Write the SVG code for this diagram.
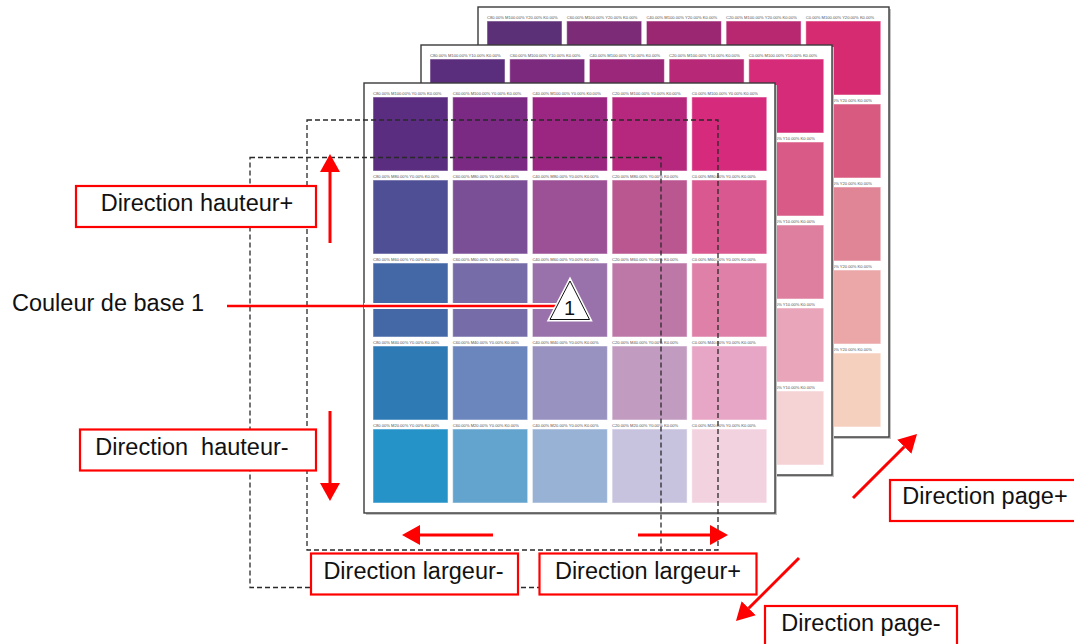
<svg xmlns="http://www.w3.org/2000/svg" width="1074" height="644" viewBox="0 0 1074 644">
<style>
.bg{fill:#fff}
.sh{fill:#c2c2c2}
.pg{fill:#fff;stroke:#3a3a3a;stroke-width:1.4}
.sw rect{stroke:#fff;stroke-opacity:.5;stroke-width:1}
.sl{font-family:"Liberation Sans",Arial,sans-serif;font-size:4.1px;fill:#555}
.dash{fill:none;stroke:#2a2a2a;stroke-width:1.3;stroke-dasharray:5 3}
.box{fill:#fff;stroke:#f00;stroke-width:2.2}
.lbl{font-family:"Liberation Sans",Arial,sans-serif;font-size:23.5px;fill:#111;text-anchor:middle;white-space:pre}
.arr{stroke:#f00;stroke-width:3;fill:none}
</style>
<defs>
<marker id="ah" markerUnits="userSpaceOnUse" markerWidth="18" markerHeight="20" refX="0" refY="10" orient="auto" viewBox="0 0 18 20"><path d="M0,0 L18,10 L0,20 Z" fill="#f00"/></marker>
</defs>
<rect class="bg" x="0" y="0" width="1074" height="644"/>

<g id="page-back" transform="translate(478,7)">
<rect class="sh" x="2" y="2" width="411" height="430"/>
<rect class="pg" x="0" y="0" width="411" height="430"/>
<g class="sw">
<rect x="9" y="14" width="75" height="74" fill="#5b3077"/>
<rect x="88.7" y="14" width="75" height="74" fill="#7c2b76"/>
<rect x="168.4" y="14" width="75" height="74" fill="#9b2773"/>
<rect x="248.1" y="14" width="75" height="74" fill="#b72870"/>
<rect x="327.8" y="14" width="75" height="74" fill="#d62b71"/>
<rect x="327.8" y="97" width="75" height="74" fill="#d95a80"/>
<rect x="327.8" y="180" width="75" height="74" fill="#df8595"/>
<rect x="327.8" y="263" width="75" height="74" fill="#eba7a8"/>
<rect x="327.8" y="346" width="75" height="74" fill="#f5d0bf"/>
</g>
<g class="sl">
<text x="9" y="11.5">C80.00% M100.00% Y20.00% K0.00%</text>
<text x="88.7" y="11.5">C60.00% M100.00% Y20.00% K0.00%</text>
<text x="168.4" y="11.5">C40.00% M100.00% Y20.00% K0.00%</text>
<text x="248.1" y="11.5">C20.00% M100.00% Y20.00% K0.00%</text>
<text x="327.8" y="11.5">C0.00% M100.00% Y20.00% K0.00%</text>
<text x="327.8" y="94.5">C0.00% M80.00% Y20.00% K0.00%</text>
<text x="327.8" y="177.5">C0.00% M60.00% Y20.00% K0.00%</text>
<text x="327.8" y="260.5">C0.00% M40.00% Y20.00% K0.00%</text>
<text x="327.8" y="343.5">C0.00% M20.00% Y20.00% K0.00%</text>
</g>
</g>

<g id="page-middle" transform="translate(421,45)">
<rect class="sh" x="2" y="2" width="411" height="430"/>
<rect class="pg" x="0" y="0" width="411" height="430"/>
<g class="sw">
<rect x="9" y="14" width="75" height="74" fill="#5b2d7d"/>
<rect x="88.7" y="14" width="75" height="74" fill="#7c2a7e"/>
<rect x="168.4" y="14" width="75" height="74" fill="#9b277b"/>
<rect x="248.1" y="14" width="75" height="74" fill="#b72877"/>
<rect x="327.8" y="14" width="75" height="74" fill="#d62b78"/>
<rect x="327.8" y="97" width="75" height="74" fill="#d95a86"/>
<rect x="327.8" y="180" width="75" height="74" fill="#df7fa0"/>
<rect x="327.8" y="263" width="75" height="74" fill="#e9a5b9"/>
<rect x="327.8" y="346" width="75" height="74" fill="#f5d2d4"/>
</g>
<g class="sl">
<text x="9" y="11.5">C80.00% M100.00% Y10.00% K0.00%</text>
<text x="88.7" y="11.5">C60.00% M100.00% Y10.00% K0.00%</text>
<text x="168.4" y="11.5">C40.00% M100.00% Y10.00% K0.00%</text>
<text x="248.1" y="11.5">C20.00% M100.00% Y10.00% K0.00%</text>
<text x="327.8" y="11.5">C0.00% M100.00% Y10.00% K0.00%</text>
<text x="327.8" y="94.5">C0.00% M80.00% Y10.00% K0.00%</text>
<text x="327.8" y="177.5">C0.00% M60.00% Y10.00% K0.00%</text>
<text x="327.8" y="260.5">C0.00% M40.00% Y10.00% K0.00%</text>
<text x="327.8" y="343.5">C0.00% M20.00% Y10.00% K0.00%</text>
</g>
</g>

<g id="page-front" transform="translate(364,83)">
<rect class="sh" x="2" y="2" width="411" height="430"/>
<rect class="pg" x="0" y="0" width="411" height="430"/>
<g class="sw">
<rect x="9" y="14" width="75" height="74" fill="#5a2d81"/>
<rect x="88.7" y="14" width="75" height="74" fill="#7b2a83"/>
<rect x="168.4" y="14" width="75" height="74" fill="#9a2681"/>
<rect x="248.1" y="14" width="75" height="74" fill="#b6287d"/>
<rect x="327.8" y="14" width="75" height="74" fill="#d62b7d"/>
<rect x="9" y="97" width="75" height="74" fill="#4f4f96"/>
<rect x="88.7" y="97" width="75" height="74" fill="#7a4f96"/>
<rect x="168.4" y="97" width="75" height="74" fill="#9c5196"/>
<rect x="248.1" y="97" width="75" height="74" fill="#ba5690"/>
<rect x="327.8" y="97" width="75" height="74" fill="#d9588f"/>
<rect x="9" y="180" width="75" height="74" fill="#4467a6"/>
<rect x="88.7" y="180" width="75" height="74" fill="#756ca8"/>
<rect x="168.4" y="180" width="75" height="74" fill="#9a72ab"/>
<rect x="248.1" y="180" width="75" height="74" fill="#be78a8"/>
<rect x="327.8" y="180" width="75" height="74" fill="#df80a8"/>
<rect x="9" y="263" width="75" height="74" fill="#2e7ab4"/>
<rect x="88.7" y="263" width="75" height="74" fill="#6b86bd"/>
<rect x="168.4" y="263" width="75" height="74" fill="#9892c1"/>
<rect x="248.1" y="263" width="75" height="74" fill="#c29bc1"/>
<rect x="327.8" y="263" width="75" height="74" fill="#e8a6c6"/>
<rect x="9" y="346" width="75" height="74" fill="#2593c8"/>
<rect x="88.7" y="346" width="75" height="74" fill="#62a4cd"/>
<rect x="168.4" y="346" width="75" height="74" fill="#98b2d6"/>
<rect x="248.1" y="346" width="75" height="74" fill="#c7c2de"/>
<rect x="327.8" y="346" width="75" height="74" fill="#f3d2e0"/>
</g>
<g class="sl">
<text x="9" y="11.5">C80.00% M100.00% Y0.00% K0.00%</text>
<text x="88.7" y="11.5">C60.00% M100.00% Y0.00% K0.00%</text>
<text x="168.4" y="11.5">C40.00% M100.00% Y0.00% K0.00%</text>
<text x="248.1" y="11.5">C20.00% M100.00% Y0.00% K0.00%</text>
<text x="327.8" y="11.5">C0.00% M100.00% Y0.00% K0.00%</text>
<text x="9" y="94.5">C80.00% M80.00% Y0.00% K0.00%</text>
<text x="88.7" y="94.5">C60.00% M80.00% Y0.00% K0.00%</text>
<text x="168.4" y="94.5">C40.00% M80.00% Y0.00% K0.00%</text>
<text x="248.1" y="94.5">C20.00% M80.00% Y0.00% K0.00%</text>
<text x="327.8" y="94.5">C0.00% M80.00% Y0.00% K0.00%</text>
<text x="9" y="177.5">C80.00% M60.00% Y0.00% K0.00%</text>
<text x="88.7" y="177.5">C60.00% M60.00% Y0.00% K0.00%</text>
<text x="168.4" y="177.5">C40.00% M60.00% Y0.00% K0.00%</text>
<text x="248.1" y="177.5">C20.00% M60.00% Y0.00% K0.00%</text>
<text x="327.8" y="177.5">C0.00% M60.00% Y0.00% K0.00%</text>
<text x="9" y="260.5">C80.00% M40.00% Y0.00% K0.00%</text>
<text x="88.7" y="260.5">C60.00% M40.00% Y0.00% K0.00%</text>
<text x="168.4" y="260.5">C40.00% M40.00% Y0.00% K0.00%</text>
<text x="248.1" y="260.5">C20.00% M40.00% Y0.00% K0.00%</text>
<text x="327.8" y="260.5">C0.00% M40.00% Y0.00% K0.00%</text>
<text x="9" y="343.5">C80.00% M20.00% Y0.00% K0.00%</text>
<text x="88.7" y="343.5">C60.00% M20.00% Y0.00% K0.00%</text>
<text x="168.4" y="343.5">C40.00% M20.00% Y0.00% K0.00%</text>
<text x="248.1" y="343.5">C20.00% M20.00% Y0.00% K0.00%</text>
<text x="327.8" y="343.5">C0.00% M20.00% Y0.00% K0.00%</text>
</g>
</g>

<g id="frames">
<rect class="dash" x="307" y="120" width="411" height="430"/>
<rect class="dash" x="250" y="157.5" width="411" height="430"/>
</g>

<g id="connectors">
<line class="arr" x1="330" y1="243" x2="330" y2="172" marker-end="url(#ah)"/>
<line class="arr" x1="330" y1="411" x2="330" y2="483" marker-end="url(#ah)"/>
<line class="arr" x1="493" y1="535" x2="420" y2="535" marker-end="url(#ah)"/>
<line class="arr" x1="638" y1="535" x2="710" y2="535" marker-end="url(#ah)"/>
<line class="arr" x1="853" y1="498" x2="904.3" y2="446.7" marker-end="url(#ah)"/>
<line class="arr" x1="799" y1="558" x2="748.7" y2="608.3" marker-end="url(#ah)"/>
<line x1="364" y1="306" x2="556" y2="306" stroke="#fff" stroke-width="6"/>
<line x1="227" y1="306" x2="557" y2="306" stroke="#f00" stroke-width="2.6"/>
</g>

<g id="base-color-1">
<path d="M570,281 L550,319.5 L589.5,319.5 Z" fill="#fff" stroke="#fff" stroke-width="4"/>
<path d="M570,281 L550,319.5 L589.5,319.5 Z" fill="#fff" stroke="#111" stroke-width="1"/>
<text x="569.5" y="315" font-family="Liberation Sans, Arial, sans-serif" font-size="20" fill="#111" text-anchor="middle">1</text>
</g>
<g id="label-base">
<text x="12" y="311" font-family="Liberation Sans, Arial, sans-serif" font-size="23.5" fill="#111">Couleur de base 1</text>
</g>

<g id="label-hauteur-plus">
<rect class="box" x="76" y="186" width="240" height="41"/>
<text class="lbl" x="197" y="211">Direction hauteur+</text>
</g>
<g id="label-hauteur-minus">
<rect class="box" x="80" y="429.5" width="236" height="41"/>
<text class="lbl" x="192" y="454.5">Direction  hauteur-</text>
</g>
<g id="label-largeur-minus">
<rect class="box" x="311" y="553.5" width="207" height="41"/>
<text class="lbl" x="413.5" y="579">Direction largeur-</text>
</g>
<g id="label-largeur-plus">
<rect class="box" x="539.5" y="553.5" width="217" height="41"/>
<text class="lbl" x="648" y="579">Direction largeur+</text>
</g>
<g id="label-page-plus">
<rect class="box" x="890" y="480" width="190" height="41"/>
<text class="lbl" x="985" y="504">Direction page+</text>
</g>
<g id="label-page-minus">
<rect class="box" x="765" y="606" width="192" height="44"/>
<text class="lbl" x="861" y="631">Direction page-</text>
</g>
</svg>
